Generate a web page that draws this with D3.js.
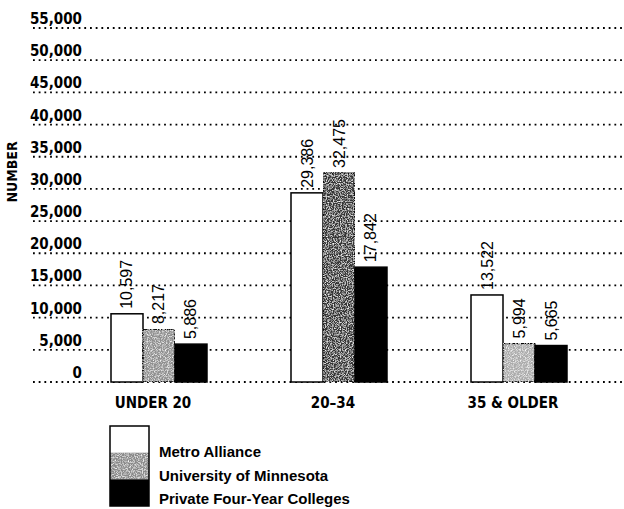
<!DOCTYPE html>
<html>
<head>
<meta charset="utf-8">
<script src="https://cdn.jsdelivr.net/npm/d3@7/dist/d3.min.js"></script>
<style>
  html, body { margin: 0; padding: 0; background: #fff; }
  svg { display: block; }
  .tick-label { font-family: 'DejaVu Sans Condensed', 'DejaVu Sans', sans-serif; font-weight: bold; font-stretch: condensed; font-size: 15px; fill: #000; }
  .cat-label { font-family: 'DejaVu Sans Condensed', 'DejaVu Sans', sans-serif; font-weight: bold; font-stretch: condensed; font-size: 15px; fill: #000; }
  .axis-title { font-family: 'DejaVu Sans Condensed', 'DejaVu Sans', sans-serif; font-weight: bold; font-stretch: condensed; font-size: 14px; fill: #000; }
  .value-label { font-family: 'Liberation Sans Narrow', 'Liberation Sans', sans-serif; font-size: 16px; fill: #000; }
  .legend-label { font-family: 'Liberation Sans Narrow', 'Liberation Sans', sans-serif; font-weight: bold; font-size: 15px; fill: #000; }
</style>
</head>
<body>
<svg id="chart" width="624" height="509"></svg>
<script>
// Enrollment by age group
const categories = ["UNDER 20", "20–34", "35 & OLDER"];
const seriesNames = ["Metro Alliance", "University of Minnesota", "Private Four-Year Colleges"];
const metroAlliance = [10597, 29386, 13522];
const universityOfMinnesota = [8217, 32475, 5994];
const privateFourYear = [5886, 17842, 5665];
const yTicks = [0, 5000, 10000, 15000, 20000, 25000, 30000, 35000, 40000, 45000, 50000, 55000];
const yTitle = "NUMBER";

const seriesValues = [metroAlliance, universityOfMinnesota, privateFourYear];

const svg = d3.select("#chart");

// Halftone-style grain for the university bars
const defs = svg.append("defs");
const grain = defs.append("filter").attr("id", "grain")
  .attr("x", 0).attr("y", 0).attr("width", 1).attr("height", 1);
grain.append("feTurbulence").attr("type", "fractalNoise")
  .attr("baseFrequency", 0.85).attr("numOctaves", 2).attr("seed", 7).attr("result", "noise");
grain.append("feColorMatrix").attr("in", "noise").attr("type", "matrix")
  .attr("values", "0 0 0 0 1  0 0 0 0 1  0 0 0 0 1  0 0 0 -2.2 1.25")
  .attr("result", "specks");
grain.append("feComposite").attr("in", "specks").attr("in2", "SourceGraphic")
  .attr("operator", "in").attr("result", "speckIn");
grain.append("feMerge").call(m => {
  m.append("feMergeNode").attr("in", "SourceGraphic");
  m.append("feMergeNode").attr("in", "speckIn");
});

const y = d3.scaleLinear().domain([0, 55000]).range([382, 28]);

const x0 = d3.scaleBand().domain(categories).range([111, 567]).paddingInner(0.4667).paddingOuter(0);
const x1 = d3.scaleBand().domain(d3.range(seriesNames.length)).range([0, x0.bandwidth()]).padding(0);

// Per-group tone of the university halftone as it printed
const uniTone = ["#8f8f8f", "#343434", "#ababab"];
const fills = [() => "#fff", i => uniTone[i], () => "#000"];

// Dotted gridlines with labels sitting on them
const grid = svg.append("g");
grid.selectAll("line").data(yTicks).join("line")
  .attr("x1", 33).attr("x2", 623)
  .attr("y1", d => y(d)).attr("y2", d => y(d))
  .attr("stroke", "#000").attr("stroke-width", 1.8)
  .attr("stroke-dasharray", "1.8,3.9");
grid.selectAll("text").data(yTicks).join("text")
  .attr("class", "tick-label")
  .attr("x", 82).attr("y", d => y(d) - 4)
  .attr("text-anchor", "end")
  .text(d => d3.format(",")(d));

svg.append("text").attr("class", "axis-title")
  .attr("transform", `translate(17,172) rotate(-90)`)
  .attr("text-anchor", "middle")
  .text(yTitle);

// Bars
const groups = svg.append("g").selectAll("g").data(categories).join("g")
  .attr("transform", d => `translate(${x0(d)},0)`);

groups.each(function (cat, ci) {
  const g = d3.select(this);
  seriesValues.forEach((vals, si) => {
    const v = vals[ci];
    const bx = x1(si), bw = x1.bandwidth();
    g.append("rect")
      .attr("x", bx).attr("y", y(v))
      .attr("width", bw).attr("height", y(0) - y(v))
      .attr("fill", fills[si](ci))
      .attr("stroke", "#000").attr("stroke-width", 1.5)
      .attr("filter", si === 1 ? "url(#grain)" : null);
    g.append("text").attr("class", "value-label")
      .attr("transform", `translate(${bx + bw / 2},${y(v) - 5}) rotate(-90)`)
      .attr("dominant-baseline", "central")
      .text(d3.format(",")(v));
  });
});

// Category labels
svg.append("g").selectAll("text").data(categories).join("text")
  .attr("class", "cat-label")
  .attr("x", d => x0(d) + x0.bandwidth() / 2 - 6)
  .attr("y", 408)
  .attr("text-anchor", "middle")
  .text(d => d);

// Legend: stacked swatch column with labels
const legend = svg.append("g");
const swH = 80 / 3;
const legendFills = ["#fff", "#8a8a8a", "#000"];
legend.selectAll("rect").data(seriesNames).join("rect")
  .attr("x", 110).attr("y", (d, i) => 426 + i * swH)
  .attr("width", 39).attr("height", swH)
  .attr("fill", (d, i) => legendFills[i])
  .attr("stroke", "none")
  .attr("filter", (d, i) => i === 1 ? "url(#grain)" : null);
legend.append("rect").attr("x", 110).attr("y", 426).attr("width", 39).attr("height", 80)
  .attr("fill", "none").attr("stroke", "#000").attr("stroke-width", 1.5);
const legendBase = [457, 481, 504];
legend.selectAll("text").data(seriesNames).join("text")
  .attr("class", "legend-label")
  .attr("x", 159).attr("y", (d, i) => legendBase[i])
  .text(d => d);
</script>
</body>
</html>
